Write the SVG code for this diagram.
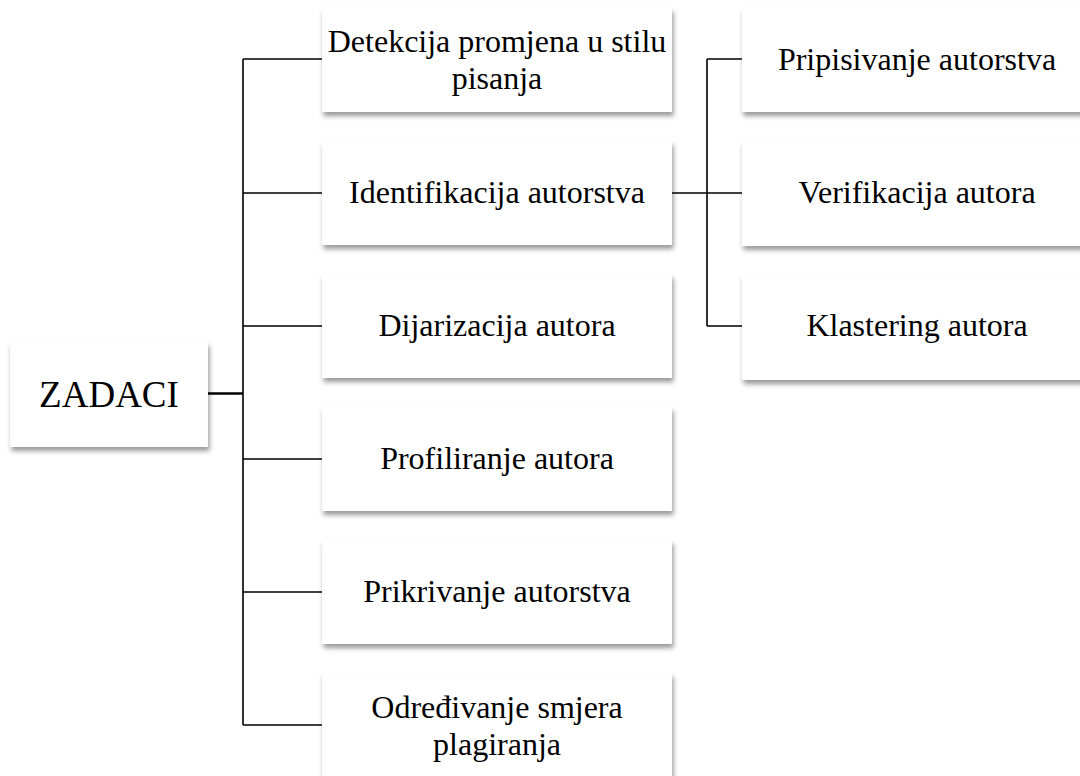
<svg xmlns="http://www.w3.org/2000/svg" width="1080" height="776" viewBox="0 0 1080 776">
<defs>
<filter id="sh" x="-10%" y="-20%" width="130%" height="150%">
<feDropShadow dx="1.5" dy="4" stdDeviation="2.5" flood-color="#000" flood-opacity="0.4"/>
</filter>
<style>
.box{fill:#fff;filter:url(#sh)}
.t{font-family:"Liberation Serif","Times New Roman",serif;font-size:32px;fill:#000;text-anchor:middle}
.big{font-size:37px}
.c{stroke:#000;stroke-width:1.6;fill:none}
.ct{stroke:#000;stroke-width:2.6;fill:none}
</style>
</defs>
<rect width="1080" height="776" fill="#fff"/>
<g id="connectors">
<path class="ct" d="M208 393.5H243"/>
<path class="c" d="M243 59V725M243 59H322M243 193H322M243 326H322M243 459H322M243 592H322M243 725H322"/>
<path class="c" d="M672 193H742M707 59V326M707 59H742M707 326H742"/>
</g>
<g id="zadaci"><rect class="box" x="10" y="342" width="198" height="105"/><text class="t big" x="109" y="407">ZADACI</text></g>
<g id="detekcija"><rect class="box" x="322" y="8" width="350" height="104"/><text class="t" x="497" y="52">Detekcija promjena u stilu</text><text class="t" x="497" y="89">pisanja</text></g>
<g id="identifikacija"><rect class="box" x="322" y="141" width="350" height="104"/><text class="t" x="497" y="203">Identifikacija autorstva</text></g>
<g id="dijarizacija"><rect class="box" x="322" y="274" width="350" height="104"/><text class="t" x="497" y="336">Dijarizacija autora</text></g>
<g id="profiliranje"><rect class="box" x="322" y="407" width="350" height="104"/><text class="t" x="497" y="469">Profiliranje autora</text></g>
<g id="prikrivanje"><rect class="box" x="322" y="540" width="350" height="104"/><text class="t" x="497" y="602">Prikrivanje autorstva</text></g>
<g id="odredivanje"><rect class="box" x="322" y="673" width="350" height="104"/><text class="t" x="497" y="718">Određivanje smjera</text><text class="t" x="497" y="755">plagiranja</text></g>
<g id="pripisivanje"><rect class="box" x="742" y="8" width="350" height="104"/><text class="t" x="917" y="70">Pripisivanje autorstva</text></g>
<g id="verifikacija"><rect class="box" x="742" y="141" width="350" height="105"/><text class="t" x="917" y="203">Verifikacija autora</text></g>
<g id="klastering"><rect class="box" x="742" y="275" width="350" height="105"/><text class="t" x="917" y="336">Klastering autora</text></g>
</svg>
